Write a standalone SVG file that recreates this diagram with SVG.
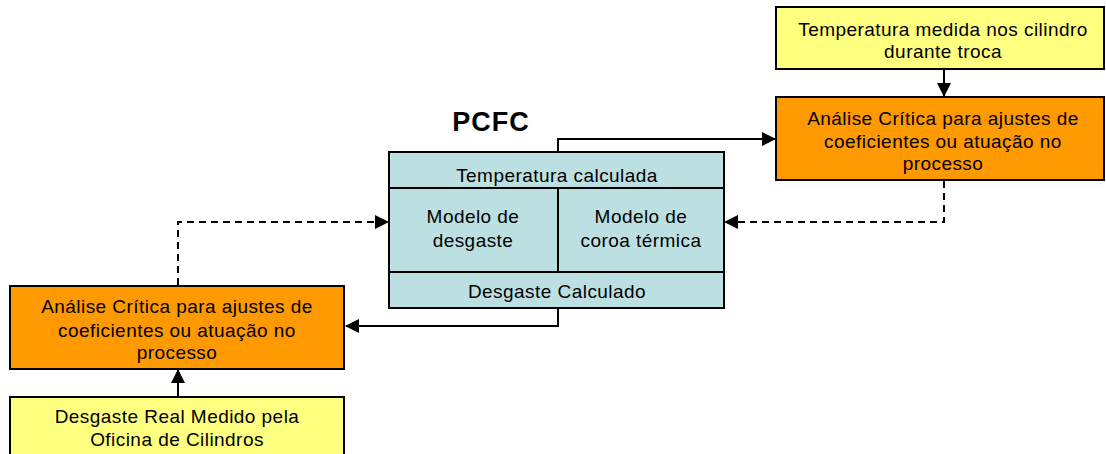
<svg xmlns="http://www.w3.org/2000/svg" width="1106" height="454" viewBox="0 0 1106 454">
<style>
text{font-family:"Liberation Sans",Arial,sans-serif;font-size:19px;letter-spacing:0.45px;fill:#000;text-anchor:middle}
.yel{fill:#ffff80;stroke:#000;stroke-width:2}
.org{fill:#ff9900;stroke:#000;stroke-width:2}
.blu{fill:#bce0e2;stroke:#000;stroke-width:2}
.ln{fill:none;stroke:#000;stroke-width:2}
.dash{fill:none;stroke:#000;stroke-width:2;stroke-dasharray:7,5}
text.title{font-size:27px;font-weight:bold;letter-spacing:1px}
</style>
<defs>
<marker id="ah" markerWidth="14" markerHeight="14" refX="13" refY="7" orient="auto" markerUnits="userSpaceOnUse">
<path d="M0,0 L14,7 L0,14 z" fill="#000"/>
</marker>
</defs>
<g id="connectors">
<path class="ln" d="M944,70 L944,96" marker-end="url(#ah)"/>
<path class="ln" d="M558,152 L558,139 L775,139" marker-end="url(#ah)"/>
<path class="dash" d="M944,181 L944,222 L725,222" marker-end="url(#ah)"/>
<path class="ln" d="M558,309 L558,326 L346,326" marker-end="url(#ah)"/>
<path class="dash" d="M178,285 L178,222 L388,222" marker-end="url(#ah)"/>
<path class="ln" d="M178,396 L178,370" marker-end="url(#ah)"/>
</g>
<g id="temp-medida">
<rect class="yel" x="776" y="7" width="328" height="62"/>
<text x="943" y="36">Temperatura medida nos cilindro</text>
<text x="943" y="58">durante troca</text>
</g>
<g id="analise-direita">
<rect class="org" x="776" y="97" width="328" height="83"/>
<text x="943" y="125">Análise Crítica para ajustes de</text>
<text x="943" y="148">coeficientes ou atuação no</text>
<text x="943" y="170">processo</text>
</g>
<g id="pcfc">
<text class="title" x="491" y="131">PCFC</text>
<rect class="blu" x="389" y="152" width="335" height="156"/>
<line class="ln" x1="389" y1="188" x2="724" y2="188"/>
<line class="ln" x1="389" y1="272" x2="724" y2="272"/>
<line class="ln" x1="558" y1="188" x2="558" y2="272"/>
<text x="557" y="182">Temperatura calculada</text>
<text x="473" y="223">Modelo de</text>
<text x="473" y="247">desgaste</text>
<text x="641" y="223">Modelo de</text>
<text x="641" y="247">coroa térmica</text>
<text x="557" y="298">Desgaste Calculado</text>
</g>
<g id="analise-esquerda">
<rect class="org" x="10" y="286" width="334" height="83"/>
<text x="177" y="313">Análise Crítica para ajustes de</text>
<text x="177" y="337">coeficientes ou atuação no</text>
<text x="177" y="359">processo</text>
</g>
<g id="desgaste-real">
<rect class="yel" x="10" y="397" width="334" height="62"/>
<text x="177" y="423">Desgaste Real Medido pela</text>
<text x="177" y="446">Oficina de Cilindros</text>
</g>
</svg>
